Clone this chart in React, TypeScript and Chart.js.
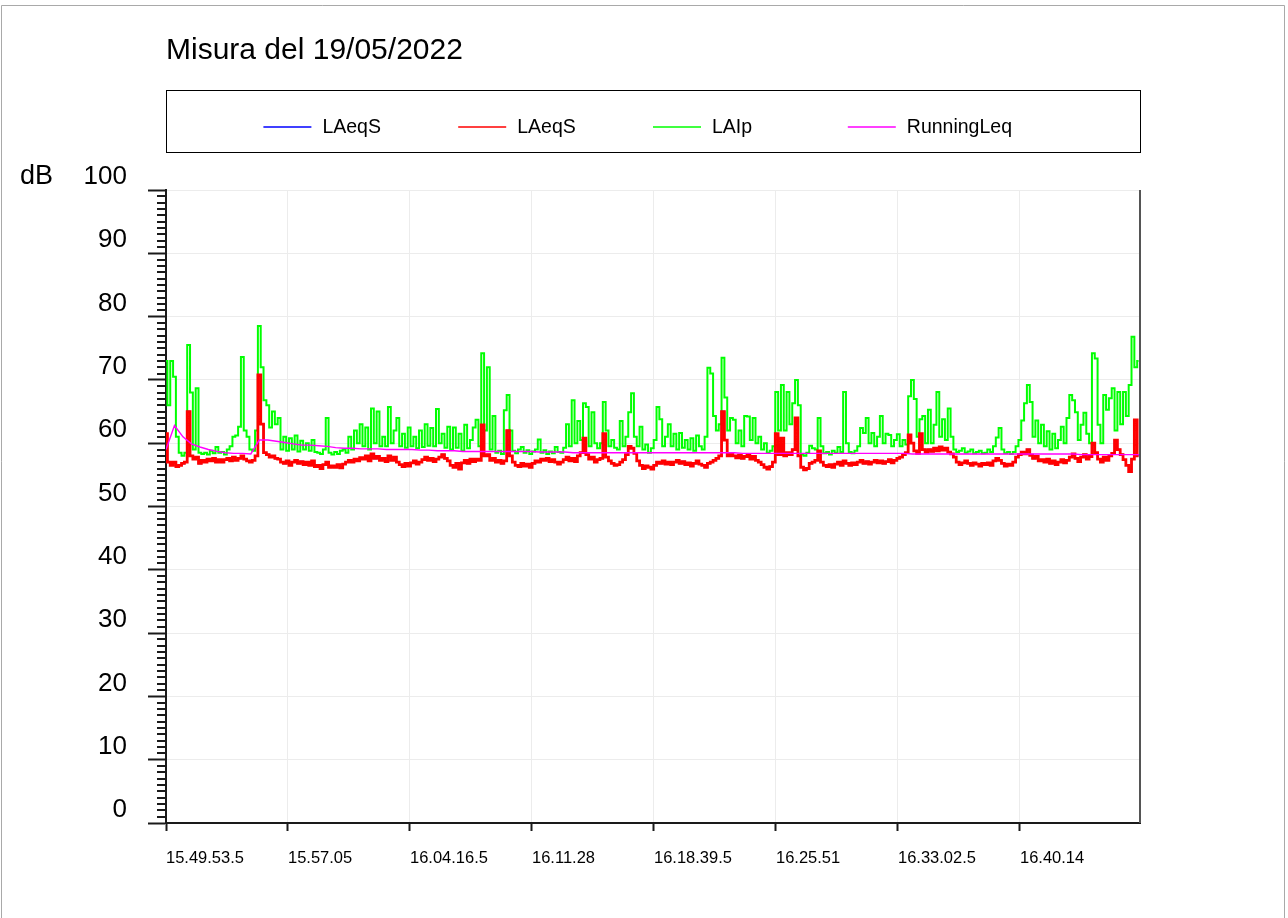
import React, { useEffect, useRef } from "react";
import { Chart, registerables } from "chart.js";

Chart.register(...registerables);

const TITLE = "Misura del 19/05/2022";
const Y_UNIT = "dB";
const Y_MIN = 0;
const Y_MAX = 100;
const Y_STEP = 10;
const SAMPLE_SECONDS = 10;
const RUNNING_SECONDS = 30;
const X_MAX_SECONDS = 3445;
const X_TICK_SECONDS = [0, 431.5, 863, 1294.5, 1726, 2157.5, 2589, 3020.5];
const X_TICK_LABELS = [
  "15.49.53.5",
  "15.57.05",
  "16.04.16.5",
  "16.11.28",
  "16.18.39.5",
  "16.25.51",
  "16.33.02.5",
  "16.40.14",
];
const SERIES_NAMES = ["LAeqS", "LAeqS", "LAIp", "RunningLeq"];
const SERIES_COLORS = ["#0000ff", "#ff0000", "#00ff00", "#ff00ff"];

// LAIp, one value every 10 s
const LAIP = [
  73, 66, 73, 70.5, 61, 58.5, 58, 58.5, 75.5, 68,
  59, 68.7, 58.5, 58.3, 58.5, 58.2, 58.8, 58.4, 59.4, 58.5,
  58.6, 58.2, 59, 59.5, 61, 61.2, 62.6, 73.6, 62, 61,
  59, 58.8, 62, 78.5, 72, 66.8, 66, 62.5, 65, 63,
  64, 59, 61, 58.8, 60.8, 59, 61.2, 58.7, 60.4, 59,
  60, 58.8, 60.5, 58.6, 58.5, 58.3, 59, 64, 58.5, 58.2,
  58.6, 58.3, 58.8, 59, 58.5, 61, 59, 62, 60, 63,
  59.5, 62.5, 59, 65.5, 60, 65, 59.5, 61, 59.5, 65.7,
  60, 62, 64, 59.5, 61.5, 59.3, 62.5, 59.5, 61, 59.2,
  62, 59.4, 63, 59.6, 62.4, 59.5, 65.4, 60, 61.5, 59.3,
  62.6, 59, 62.5, 59.3, 61.5, 58.8, 62.9, 59.2, 60.5, 62.5,
  63.7, 59.5, 74.2, 62, 72, 59, 64.3, 58.5, 58.8, 58.3,
  65.2, 67.6, 62, 58.8, 58.4, 59, 59.4, 58.5, 58.9, 58.3,
  58.7, 59, 60.6, 58.5, 58.9, 58.3, 58.7, 58.4, 59.4, 58.6,
  58.5, 59.3, 63, 59.5, 66.8, 60, 63.5, 60.5, 66.3, 65.7,
  59.5, 64.9, 60, 59.2, 60, 66.5, 62, 59.5, 60.5, 59.3,
  59, 63.5, 59.5, 61, 64.9, 67.9, 61, 59.5, 62.6, 59,
  59.8, 58.5, 59.2, 60.5, 65.7, 63.8, 59.5, 61, 63, 59.5,
  61.5, 59, 61.6, 59.3, 60.5, 59, 60.8, 58.8, 61.2, 59.5,
  59, 61, 71.9, 71, 64.3, 62, 63, 73.5, 67.2, 62,
  64, 63.7, 60, 62, 59.5, 64.3, 64.2, 60.5, 64, 60,
  61, 59, 60, 58.5, 58.8, 59.5, 68.1, 62, 69.2, 62,
  68.1, 63, 66.3, 70, 66, 58.2, 58, 58.5, 59.6, 59.2,
  59, 64, 59.5, 58.4, 58.6, 58.2, 58.8, 58.5, 59.4, 58.6,
  68.1, 60, 58.6, 58.4, 58.8, 59.5, 62.4, 61.6, 64, 60,
  61.6, 59.5, 61, 64.3, 60, 61.5, 61.3, 59.5, 60.5, 61.4,
  59.5, 60.5, 59.8, 67.4, 70, 67, 61, 63.8, 64.3, 60,
  65.3, 60, 62.9, 68.1, 61, 63.8, 60.5, 65.5, 61, 59,
  58.6, 58.8, 59.2, 58.5, 58.7, 59, 58.4, 58.6, 58.8, 58.4,
  58.5, 59, 58.6, 59.5, 60.9, 62.4, 59, 58.4, 58.6, 58.3,
  58.6, 59.5, 60.5, 63.6, 66.3, 69.2, 66.5, 61, 63.6, 60,
  62.9, 59.5, 61.9, 59, 61.5, 59.2, 60.5, 62.6, 60, 64,
  67.6, 66.8, 64.9, 60.5, 62.9, 64.8, 61.5, 60, 74.2, 73.4,
  62.9, 60, 67.6, 65.3, 67.1, 68.7, 62, 68.1, 63, 68.1,
  64.3, 69.2, 76.8, 72, 73,
];

// LAeqS, one value every 10 s
const LAEQS = [
  61.5, 57, 56.5, 57, 56.3, 56.5, 56.8, 57, 65, 58,
  57.5, 57.8, 56.8, 57.3, 57, 57.5, 57.2, 57.6, 57, 57.4,
  57, 57.4, 57.6, 57.2, 57.8, 57.3, 57.6, 58, 57.5, 57.2,
  57, 57.3, 58, 70.8, 63, 58.5, 58.2, 57.8, 58, 57.6,
  57.5, 57, 56.8, 57.2, 56.5, 57, 57.3, 56.8, 57.1, 56.6,
  57, 56.5, 57.2, 56.3, 56.5, 56, 56.6, 57, 56.2, 56.4,
  56.2, 56.6, 56.1, 56.7, 57, 57.3, 57, 57.5, 57.2, 57.7,
  57.5, 58, 57.2, 58.3, 57.6, 57.9, 57.3, 57.6, 57.1, 58,
  57.3, 57.8, 57, 56.6, 56.3, 56.8, 56.4, 56.9, 57.2, 56.7,
  57, 57.4, 57.8, 57.3, 57.6, 57.1, 57.5, 57.8, 58.2, 57.6,
  57.2, 56.5, 56.2, 56.8, 55.9, 56.9, 57.3, 56.8, 57.5, 57.1,
  57.5, 57.3, 62.9, 58, 58.2, 57.3, 57.6, 57, 57.3, 56.8,
  57.2, 62, 58, 57, 56.5, 56.3, 56.8, 56.4, 56.7, 56.2,
  56.8, 57.2, 57, 57.5, 57.3, 57.6, 57.1, 57.4, 57, 56.7,
  57, 57.4, 57.8, 57.2, 57.6, 57.1, 58, 58.5, 60.8, 58.2,
  57.5, 57.8, 57, 57.4, 57.6, 61.5, 57.8, 57.2, 56.8, 56.5,
  56.6, 57, 57.4, 58.2, 59.5, 59.2, 58.4, 57.2, 56.5, 56,
  56.4, 56.2, 55.9, 56.5, 57, 56.8, 57.2, 56.7, 57, 56.6,
  57, 57.3, 56.8, 57.1, 56.6, 56.9, 56.4, 56.8, 57.2, 56.7,
  56.5, 56.2, 56.8, 57, 57.3, 57.6, 58, 65, 60.5, 58,
  58.3, 58, 57.7, 58.1, 57.6, 57.9, 58.2, 57.5, 57.9, 57.3,
  57, 56.6, 56.2, 55.9, 56.3, 57, 61.5, 58.2, 60.8, 58,
  58.5, 58.2, 59, 64, 58, 56.2, 55.8, 56, 56.8, 57,
  57.3, 58.8, 57, 56.5, 56.3, 56.6, 56.2, 56.7, 57, 56.5,
  57.2, 56.8, 56.5, 56.9, 56.6, 57, 57.3, 56.8, 57.1, 56.7,
  57, 57.3, 56.9, 57.2, 56.8, 57.1, 57.4, 56.9, 57.3, 57.6,
  57.8, 58.2, 58.5, 61.3, 60, 58.8, 58.4, 61.5, 59, 58.6,
  59, 58.7, 59.2, 58.8, 59.4, 58.9, 59.2, 58.6, 58.3, 57.8,
  57, 56.6, 56.9, 57.2, 56.8, 56.5, 56.9, 56.7, 56.4, 56.8,
  56.6, 56.9, 56.5, 57.2, 57.6, 57.3, 56.8, 56.4, 56.7, 56.5,
  57, 57.8, 58.2, 58.6, 58.3, 59, 58.1, 57.6, 57.9, 57.2,
  57.4, 57, 57.5, 56.8, 57.2, 56.6, 57, 57.4, 56.9, 57.3,
  57.8, 58.3, 57.6, 57.1, 57.8, 58.2, 57.5, 57.9, 60, 58.5,
  57.5, 57, 57.8, 57.3, 58, 58.4, 60.5, 59, 58.2, 57.4,
  56.5, 55.5, 57.5, 63.7, 58,
];

// Running Leq, one value every 30 s
const RUNNING_LEQ = [
  59.0, 62.8, 61.0, 59.9, 59.4, 59.0, 58.7, 58.5, 58.4, 58.4,
  58.3, 60.5, 60.5, 60.3, 60.1, 59.9, 59.7, 59.7, 59.6, 59.5,
  59.3, 59.2, 59.2, 59.1, 59.1, 59.1, 59.0, 59.0, 59.0, 59.0,
  58.9, 58.9, 58.8, 58.8, 58.8, 58.7, 58.7, 58.7, 58.7, 58.7,
  58.7, 58.7, 58.7, 58.7, 58.6, 58.6, 58.6, 58.6, 58.5, 58.5,
  58.5, 58.5, 58.5, 58.5, 58.5, 58.5, 58.5, 58.5, 58.5, 58.5,
  58.5, 58.5, 58.5, 58.5, 58.5, 58.5, 58.5, 58.5, 58.4, 58.4,
  58.4, 58.4, 58.4, 58.4, 58.4, 58.4, 58.4, 58.4, 58.4, 58.4,
  58.4, 58.4, 58.4, 58.4, 58.4, 58.4, 58.4, 58.4, 58.3, 58.3,
  58.3, 58.3, 58.3, 58.3, 58.3, 58.3, 58.3, 58.3, 58.3, 58.3,
  58.3, 58.3, 58.3, 58.3, 58.3, 58.3, 58.3, 58.3, 58.2, 58.2,
  58.2, 58.2, 58.2, 58.2, 58.2, 58.2,
];

const FONT = "'Liberation Sans', Arial, sans-serif";

const toPoints = (values: number[], step: number) =>
  values.map((v, i) => ({ x: i * step, y: v }));

const decorPlugin = {
  id: "decor",
  beforeDraw(chart: any) {
    const ctx = chart.ctx as CanvasRenderingContext2D;
    ctx.save();
    ctx.fillStyle = "#ffffff";
    ctx.fillRect(0, 0, chart.width, chart.height);
    ctx.strokeStyle = "#a9a9a9";
    ctx.lineWidth = 1;
    ctx.beginPath();
    ctx.moveTo(1.5, chart.height);
    ctx.lineTo(1.5, 5.5);
    ctx.lineTo(chart.width - 3.5, 5.5);
    ctx.lineTo(chart.width - 3.5, chart.height);
    ctx.stroke();
    ctx.restore();
  },
  afterDraw(chart: any) {
    const ctx = chart.ctx as CanvasRenderingContext2D;
    const area = chart.chartArea;
    const yScale = chart.scales.y;
    ctx.save();

    // minor y ticks
    ctx.strokeStyle = "#1a1a1a";
    ctx.lineWidth = 2;
    ctx.beginPath();
    for (let v = Y_MIN; v <= Y_MAX; v++) {
      if (v % Y_STEP === 0) continue;
      const py = Math.round(yScale.getPixelForValue(v));
      ctx.moveTo(area.left - 9, py);
      ctx.lineTo(area.left, py);
    }
    ctx.stroke();

    // right frame of plot
    ctx.strokeStyle = "#555555";
    ctx.lineWidth = 2;
    ctx.beginPath();
    ctx.moveTo(area.right, area.top);
    ctx.lineTo(area.right, area.bottom);
    ctx.stroke();

    // unit label
    ctx.fillStyle = "#000000";
    ctx.font = `27px ${FONT}`;
    ctx.textAlign = "left";
    ctx.textBaseline = "middle";
    ctx.fillText(Y_UNIT, 20, yScale.getPixelForValue(Y_MAX) - 13);

    // title
    ctx.font = `30px ${FONT}`;
    ctx.textBaseline = "alphabetic";
    ctx.fillText(TITLE, area.left, 59);

    // legend box
    const boxTop = 90;
    const boxH = 62;
    const boxW = area.right - area.left;
    ctx.strokeStyle = "#000000";
    ctx.lineWidth = 1;
    ctx.strokeRect(area.left + 0.5, boxTop + 0.5, boxW, boxH);
    const slot = boxW / 5;
    ctx.font = `19.5px ${FONT}`;
    ctx.textBaseline = "middle";
    SERIES_NAMES.forEach((name, i) => {
      const x0 = area.left + (i + 0.5) * slot;
      const cy = boxTop + 38;
      ctx.strokeStyle = SERIES_COLORS[i];
      ctx.lineWidth = 1.5;
      ctx.beginPath();
      ctx.moveTo(x0, cy - 1);
      ctx.lineTo(x0 + 48, cy - 1);
      ctx.stroke();
      ctx.fillStyle = "#000000";
      ctx.fillText(name, x0 + 59, cy);
    });
    ctx.restore();
  },
};

export default function App() {
  const ref = useRef<HTMLCanvasElement>(null);

  useEffect(() => {
    const canvas = ref.current;
    if (!canvas) return;
    const laeq = toPoints(LAEQS, SAMPLE_SECONDS);
    const laip = toPoints(LAIP, SAMPLE_SECONDS);
    const running = toPoints(RUNNING_LEQ, RUNNING_SECONDS);

    const chart = new Chart(canvas, {
      type: "line",
      data: {
        datasets: [
          {
            label: SERIES_NAMES[0],
            data: laeq,
            borderColor: SERIES_COLORS[0],
            backgroundColor: SERIES_COLORS[0],
            borderWidth: 1.5,
            pointRadius: 0,
            stepped: "middle",
            order: 2,
          },
          {
            label: SERIES_NAMES[1],
            data: laeq,
            borderColor: SERIES_COLORS[1],
            backgroundColor: SERIES_COLORS[1],
            borderWidth: 2.8,
            pointRadius: 0,
            stepped: "middle",
            order: 1,
          },
          {
            label: SERIES_NAMES[2],
            data: laip,
            borderColor: SERIES_COLORS[2],
            backgroundColor: SERIES_COLORS[2],
            borderWidth: 2,
            pointRadius: 0,
            stepped: "middle",
            order: 3,
          },
          {
            label: SERIES_NAMES[3],
            data: running,
            borderColor: SERIES_COLORS[3],
            backgroundColor: SERIES_COLORS[3],
            borderWidth: 1.4,
            pointRadius: 0,
            order: 0,
          },
        ],
      },
      options: {
        responsive: false,
        animation: false,
        events: [],
        layout: { padding: { top: 190, right: 148, left: 0, bottom: 0 } },
        plugins: {
          legend: { display: false },
          title: { display: false },
          tooltip: { enabled: false },
        },
        scales: {
          x: {
            type: "linear",
            min: 0,
            max: X_MAX_SECONDS,
            afterBuildTicks: (scale: any) => {
              scale.ticks = X_TICK_SECONDS.map((v) => ({ value: v }));
            },
            afterFit: (scale: any) => {
              scale.height = 95;
            },
            ticks: {
              callback: (_v: any, i: number) => X_TICK_LABELS[i],
              align: "start",
              maxRotation: 0,
              minRotation: 0,
              autoSkip: false,
              padding: 18,
              color: "#000000",
              font: { family: FONT, size: 16.5 },
            },
            grid: {
              color: "#ececec",
              lineWidth: 1,
              tickLength: 8,
              tickColor: "#1a1a1a",
              tickWidth: 2,
            },
            border: { color: "#1a1a1a", width: 2 },
          },
          y: {
            min: Y_MIN,
            max: Y_MAX,
            afterFit: (scale: any) => {
              scale.width = 166;
            },
            ticks: {
              stepSize: Y_STEP,
              padding: 21,
              labelOffset: -13,
              color: "#000000",
              font: { family: FONT, size: 26 },
            },
            grid: {
              color: "#ececec",
              lineWidth: 1,
              tickLength: 18,
              tickColor: "#1a1a1a",
              tickWidth: 2,
            },
            border: { color: "#1a1a1a", width: 2 },
          },
        },
      } as any,
      plugins: [decorPlugin],
    });
    return () => chart.destroy();
  }, []);

  return (
    <div
      style={{
        position: "absolute",
        left: 0,
        top: 0,
        width: 1288,
        height: 918,
        background: "#ffffff",
        overflow: "hidden",
      }}
    >
      <canvas
        ref={ref}
        width={1288}
        height={918}
        style={{ display: "block", width: 1288, height: 918 }}
      />
    </div>
  );
}
